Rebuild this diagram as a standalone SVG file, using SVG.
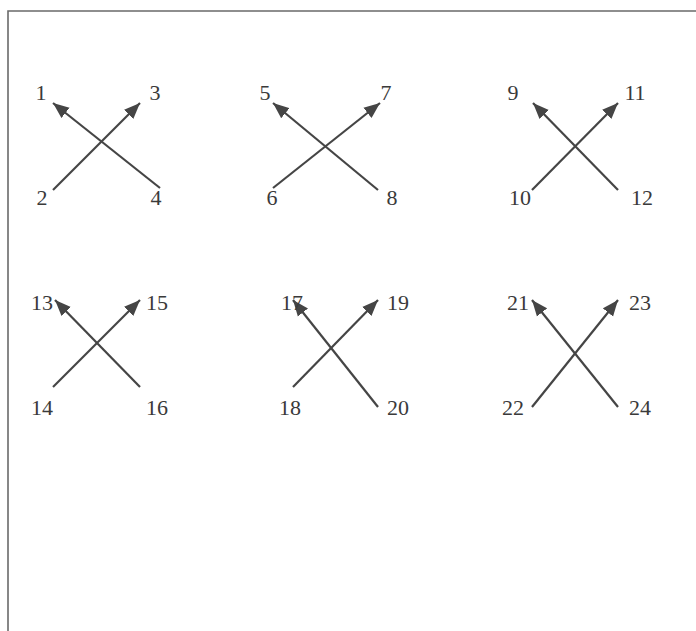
<svg xmlns="http://www.w3.org/2000/svg" width="696" height="631" viewBox="0 0 696 631">
<style>
.lbl{font-family:"Liberation Serif","Times New Roman",serif;font-size:22px;fill:#3a3a3a;text-anchor:middle}
.c{stroke:#454545;stroke-width:2.2;fill:none;marker-end:url(#ah)}
</style>
<defs>
<marker id="ah" markerUnits="userSpaceOnUse" markerWidth="18" markerHeight="14" refX="16" refY="7" orient="auto">
<path d="M0,0.5 L16,7 L0,13.5 Z" fill="#454545"/>
</marker>
</defs>
<rect width="696" height="631" fill="#ffffff"/>
<path d="M8,640 V11 H700" fill="none" stroke="#6a6a6a" stroke-width="1.6"/>
<g id="connectors">
<line class="c" x1="160" y1="188" x2="53" y2="103"/>
<line class="c" x1="53" y1="190" x2="140" y2="103"/>
<line class="c" x1="378" y1="190" x2="273" y2="103"/>
<line class="c" x1="273" y1="188" x2="380" y2="103"/>
<line class="c" x1="618" y1="190" x2="533" y2="103"/>
<line class="c" x1="532" y1="190" x2="618" y2="103"/>
<line class="c" x1="140" y1="387" x2="55" y2="300"/>
<line class="c" x1="53" y1="387" x2="140" y2="300"/>
<line class="c" x1="378" y1="407" x2="293" y2="300"/>
<line class="c" x1="293" y1="387" x2="378" y2="300"/>
<line class="c" x1="618" y1="407" x2="532" y2="300"/>
<line class="c" x1="532" y1="407" x2="618" y2="300"/>
</g>
<g id="n1"><text class="lbl" x="41" y="100">1</text></g>
<g id="n2"><text class="lbl" x="42" y="205">2</text></g>
<g id="n3"><text class="lbl" x="155" y="100">3</text></g>
<g id="n4"><text class="lbl" x="156" y="205">4</text></g>
<g id="n5"><text class="lbl" x="265" y="100">5</text></g>
<g id="n6"><text class="lbl" x="272" y="205">6</text></g>
<g id="n7"><text class="lbl" x="386" y="100">7</text></g>
<g id="n8"><text class="lbl" x="392" y="205">8</text></g>
<g id="n9"><text class="lbl" x="513" y="100">9</text></g>
<g id="n10"><text class="lbl" x="520" y="205">10</text></g>
<g id="n11"><text class="lbl" x="635" y="100">11</text></g>
<g id="n12"><text class="lbl" x="642" y="205">12</text></g>
<g id="n13"><text class="lbl" x="42" y="310">13</text></g>
<g id="n14"><text class="lbl" x="42" y="415">14</text></g>
<g id="n15"><text class="lbl" x="157" y="310">15</text></g>
<g id="n16"><text class="lbl" x="157" y="415">16</text></g>
<g id="n17"><text class="lbl" x="292" y="310">17</text></g>
<g id="n18"><text class="lbl" x="290" y="415">18</text></g>
<g id="n19"><text class="lbl" x="398" y="310">19</text></g>
<g id="n20"><text class="lbl" x="398" y="415">20</text></g>
<g id="n21"><text class="lbl" x="518" y="310">21</text></g>
<g id="n22"><text class="lbl" x="513" y="415">22</text></g>
<g id="n23"><text class="lbl" x="640" y="310">23</text></g>
<g id="n24"><text class="lbl" x="640" y="415">24</text></g>
</svg>
